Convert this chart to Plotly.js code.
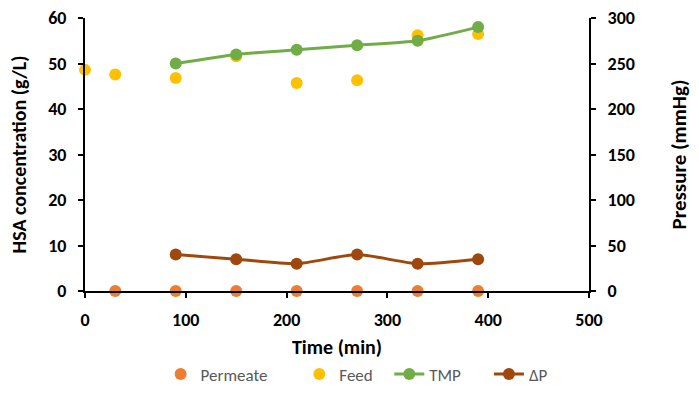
<!DOCTYPE html>
<html><head><meta charset="utf-8">
<script src="https://cdn.plot.ly/plotly-3.0.1.min.js"></script>
<style>html,body{margin:0;padding:0;background:#fff}</style>
</head><body>
<div id="chart" style="width:699px;height:411px"></div>
<script>
const permeateTime = [30, 90, 150, 210, 270, 330, 390];
const permeateConc = [0, 0, 0, 0, 0, 0, 0];
const feedTime = [0, 30, 90, 150, 210, 270, 330, 390];
const feedConc = [48.6, 47.6, 46.8, 51.6, 45.7, 46.3, 56.2, 56.5];
const pressTime = [90, 150, 210, 270, 330, 390];
const tmp = [250, 260, 265, 270, 275, 290];
const deltaP = [40, 35, 30, 40, 30, 35];
const seriesNames = ['Permeate', 'Feed', 'TMP', 'ΔP'];

const font = "Carlito, Calibri, 'Liberation Sans', Arial, sans-serif";
const pad = n => '\u00a0'.repeat(n);
const traces = [
  {x: permeateTime, y: permeateConc, name: seriesNames[0] + pad(7), mode: 'markers', type: 'scatter',
   marker: {color: '#ED7D31', size: 12}, cliponaxis: false},
  {x: feedTime, y: feedConc, name: seriesNames[1] + pad(3), mode: 'markers', type: 'scatter',
   marker: {color: '#FFC000', size: 12}, cliponaxis: false},
  {x: pressTime, y: tmp, name: seriesNames[2] + pad(6), mode: 'lines+markers', type: 'scatter', yaxis: 'y2',
   line: {color: '#70AD47', width: 3, shape: 'spline', smoothing: 0.6}, marker: {color: '#70AD47', size: 12}},
  {x: pressTime, y: deltaP, name: seriesNames[3], mode: 'lines+markers', type: 'scatter', yaxis: 'y2',
   line: {color: '#9E480E', width: 3, shape: 'spline', smoothing: 0.6}, marker: {color: '#9E480E', size: 12}}
];
const axCommon = {
  showgrid: false, zeroline: false, showline: true, linecolor: '#000', linewidth: 2,
  ticks: 'outside', ticklen: 5, tickwidth: 2, tickcolor: '#000',
  tickfont: {family: font, size: 18, color: '#000', weight: 'bold'}
};
const titleFont = {family: font, size: 20, color: '#000', weight: 'bold'};
const layout = {
  width: 699, height: 411,
  margin: {l: 85, r: 110, t: 18, b: 120},
  paper_bgcolor: '#fff', plot_bgcolor: '#fff',
  font: {family: font},
  showlegend: true,
  legend: {orientation: 'h', x: 0.15, xanchor: 'left', y: -0.24, yanchor: 'top',
           font: {family: font, size: 17, color: '#595959'}, traceorder: 'normal'},
  xaxis: Object.assign({}, axCommon, {range: [0, 500], dtick: 100, ticklabelstandoff: 6,
    title: {text: 'Time (min)', font: titleFont, standoff: 10}}),
  yaxis: Object.assign({}, axCommon, {range: [0, 60], dtick: 10, ticklabelstandoff: 8,
    title: {text: 'HSA concentration (g/L)', font: titleFont, standoff: 16}}),
  yaxis2: Object.assign({}, axCommon, {range: [0, 300], dtick: 50, overlaying: 'y', side: 'right', ticklabelstandoff: 8,
    title: {text: 'Pressure (mmHg)', font: {family: font, size: 21, color: '#000', weight: 'bold'}, standoff: 37}})
};
Plotly.newPlot('chart', traces, layout, {displayModeBar: false, staticPlot: true});
</script>
</body></html>
